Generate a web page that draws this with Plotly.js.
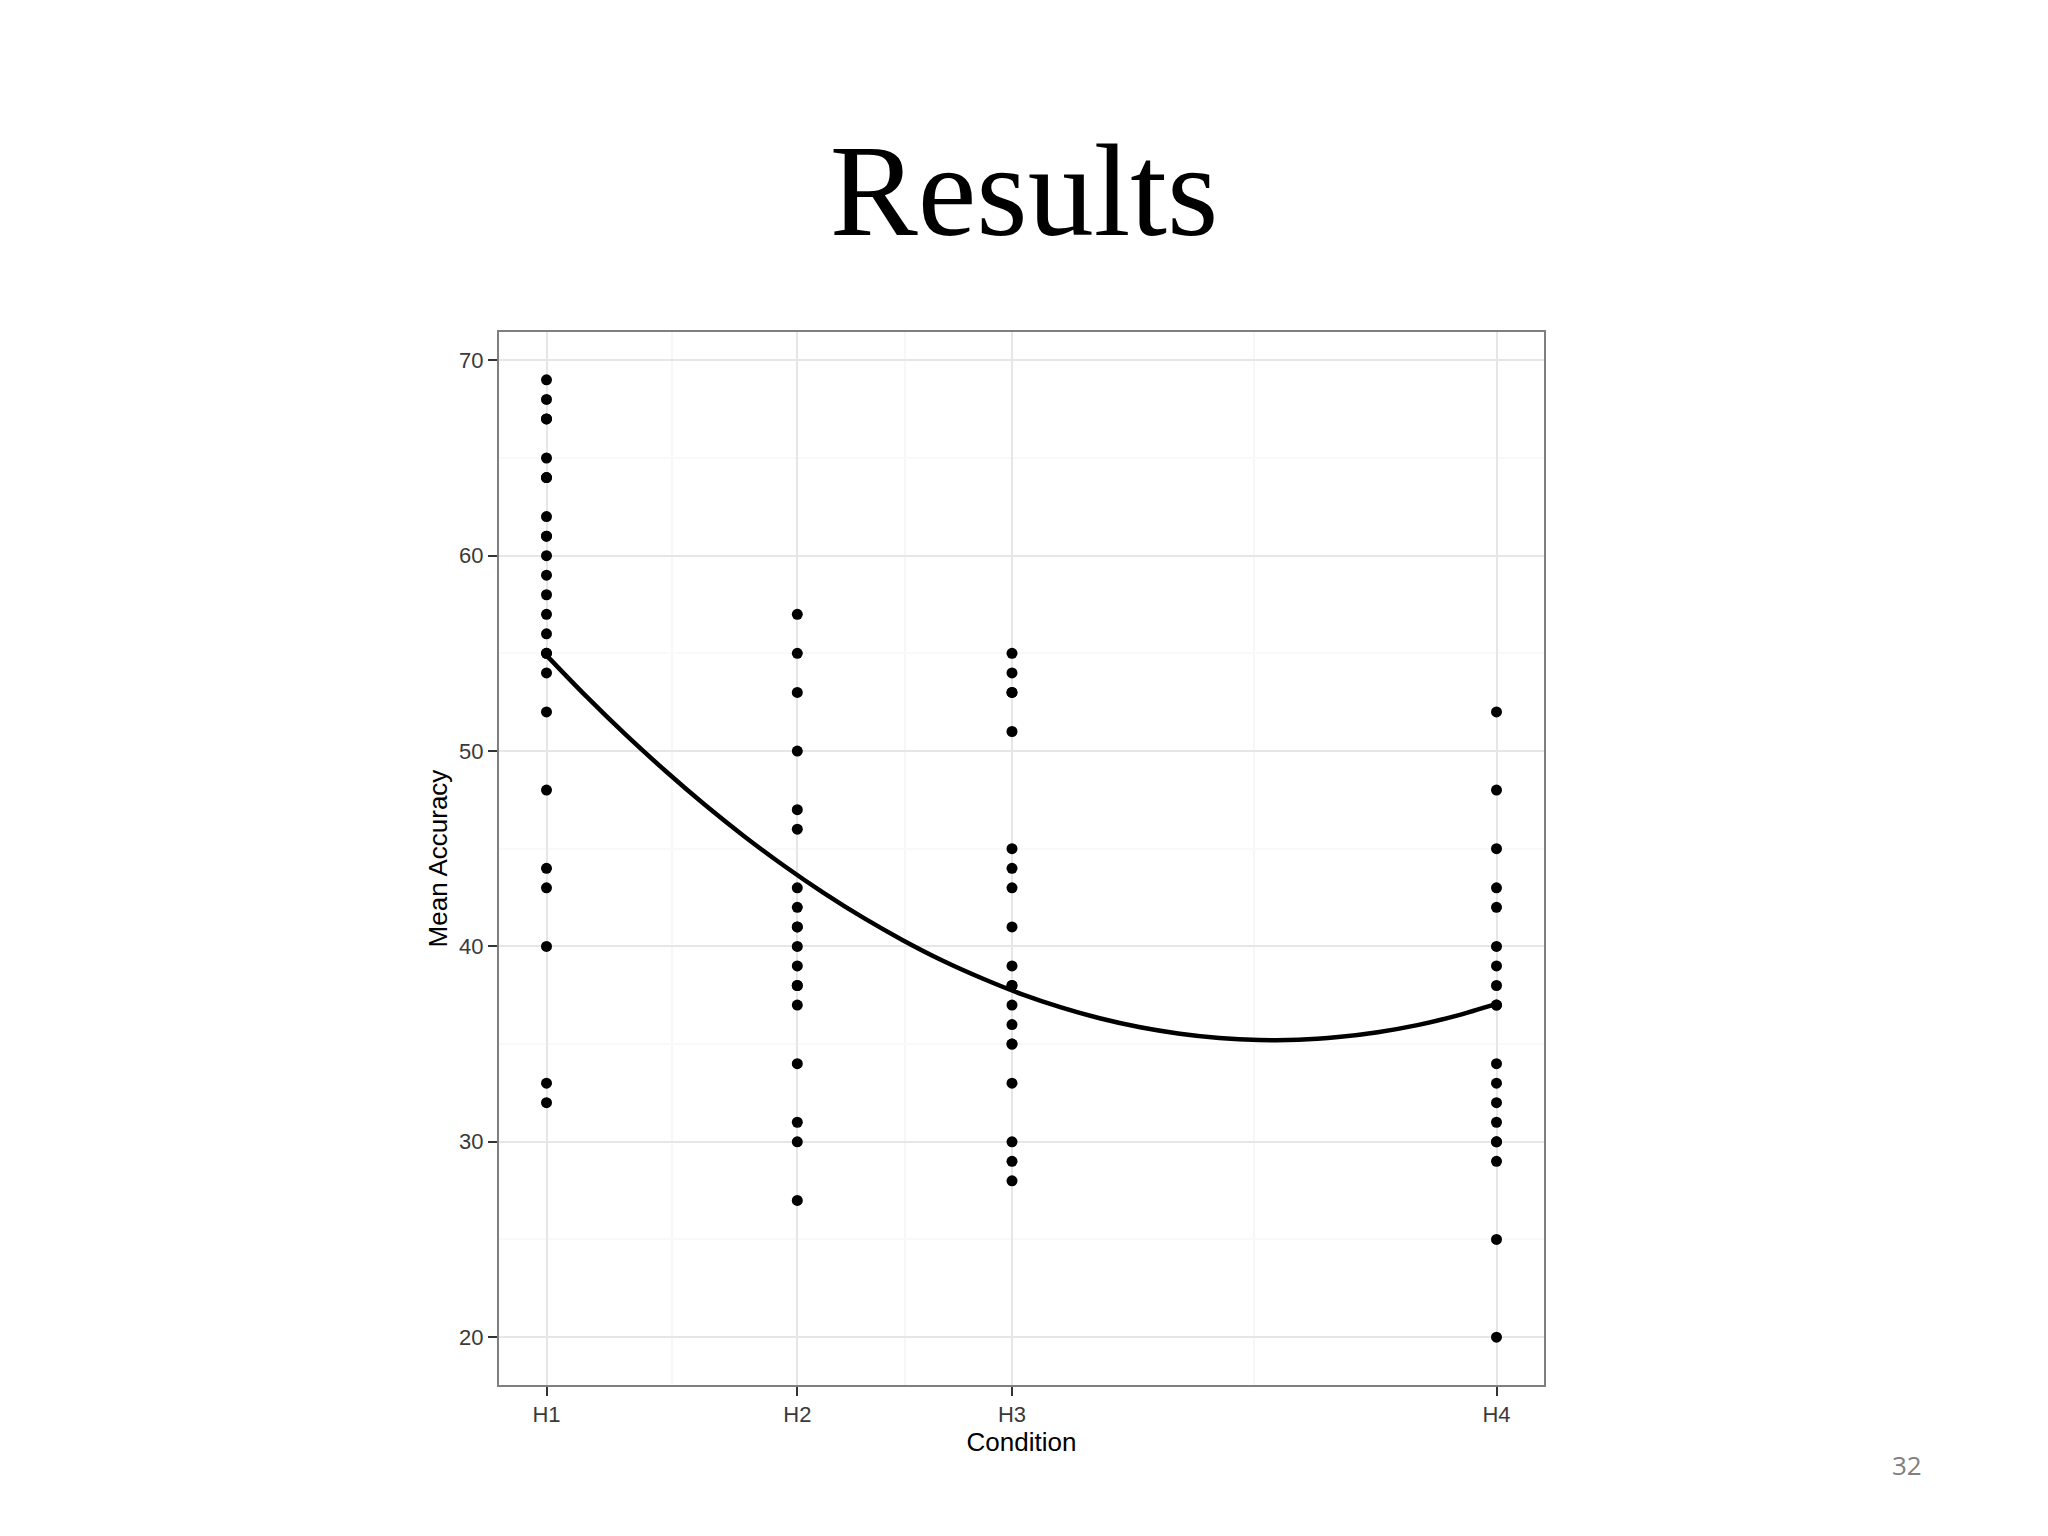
<!DOCTYPE html>
<html>
<head>
<meta charset="utf-8">
<script src="https://cdn.plot.ly/plotly-3.0.1.min.js"></script>
<style>
html,body{margin:0;padding:0;background:#ffffff;}
#chart{width:2048px;height:1536px;}
</style>
</head>
<body>
<div id="chart"></div>
<script>
// Condition positions on the numeric x scale and their labels
const conditionLabels = ["H1", "H2", "H3", "H4"];
const conditionX = [1, 1.792, 2.47, 4];

// Mean accuracy per participant, per condition
const accH1 = [69, 68, 67, 67, 65, 64, 64, 62, 61, 61, 60, 59, 58, 57, 56, 55, 55, 54, 52, 48, 44, 43, 40, 33, 32];
const accH2 = [57, 55, 53, 50, 47, 46, 43, 42, 41, 41, 40, 39, 38, 38, 37, 34, 31, 30, 27];
const accH3 = [55, 54, 53, 53, 51, 45, 44, 43, 41, 39, 38, 38, 37, 36, 35, 35, 33, 30, 29, 28];
const accH4 = [52, 48, 45, 43, 42, 40, 39, 38, 37, 37, 34, 33, 32, 31, 30, 30, 29, 25, 20];

// Smooth (quadratic) fit line
const fitX = [1.0, 1.125, 1.25, 1.375, 1.5, 1.625, 1.75, 1.875, 2.0, 2.125, 2.25, 2.375, 2.5,
              2.625, 2.75, 2.875, 3.0, 3.125, 3.25, 3.375, 3.5, 3.625, 3.75, 3.875, 4.0];
const fitY = [54.90, 52.81, 50.84, 48.99, 47.25, 45.63, 44.13, 42.74, 41.47, 40.32, 39.28, 38.37, 37.56,
              36.88, 36.31, 35.86, 35.53, 35.31, 35.21, 35.22, 35.36, 35.61, 35.97, 36.46, 37.06];

// Axis ticks
const yTicks = [20, 30, 40, 50, 60, 70];
const yMinor = [25, 35, 45, 55, 65];

const groups = [accH1, accH2, accH3, accH4];
const ptsX = [], ptsY = [];
groups.forEach((g, i) => g.forEach(v => { ptsX.push(conditionX[i]); ptsY.push(v); }));
const xMinor = [];
for (let i = 0; i < conditionX.length - 1; i++) xMinor.push((conditionX[i] + conditionX[i + 1]) / 2);

const traces = [
  {
    type: "scatter", mode: "lines", x: fitX, y: fitY,
    line: {color: "#000000", width: 4.5, shape: "spline", smoothing: 0.8},
    hoverinfo: "skip", showlegend: false
  },
  {
    type: "scatter", mode: "markers", x: ptsX, y: ptsY,
    marker: {color: "#000000", size: 11}, hoverinfo: "skip", showlegend: false
  }
];

const axisFont = {family: "Liberation Sans, Arial, sans-serif", size: 22, color: "#3a3a3a"};

const layout = {
  width: 2048, height: 1536,
  paper_bgcolor: "#ffffff", plot_bgcolor: "#ffffff",
  margin: {l: 499, r: 504, t: 332, b: 151, pad: 0},
  showlegend: false,
  title: {
    text: "Results", x: 0.5, xref: "container", xanchor: "center",
    y: 0.877, yref: "container", yanchor: "middle",
    font: {family: "Liberation Serif, DejaVu Serif, serif", size: 132, color: "#000000"}
  },
  xaxis: {
    range: [0.85, 4.15], tickmode: "array", tickvals: conditionX, ticktext: conditionLabels,
    ticks: "outside", ticklen: 9, tickwidth: 2, tickcolor: "#333333",
    tickfont: axisFont,
    showgrid: true, gridcolor: "#e6e6e6", gridwidth: 2,
    minor: {tickmode: "array", tickvals: xMinor, showgrid: true, gridcolor: "#f7f7f7", gridwidth: 2, ticks: ""},
    showline: true, linecolor: "#7f7f7f", linewidth: 2, mirror: true,
    zeroline: false,
    title: {text: "Condition", standoff: 3, font: {family: "Liberation Sans, Arial, sans-serif", size: 26, color: "#000000"}}
  },
  yaxis: {
    range: [17.55, 71.45], tickmode: "array", tickvals: yTicks,
    ticks: "outside", ticklen: 9, tickwidth: 2, tickcolor: "#333333",
    tickfont: axisFont,
    showgrid: true, gridcolor: "#e6e6e6", gridwidth: 2,
    minor: {tickmode: "array", tickvals: yMinor, showgrid: true, gridcolor: "#f9f9f9", gridwidth: 2, ticks: ""},
    showline: true, linecolor: "#7f7f7f", linewidth: 2, mirror: true,
    zeroline: false,
    title: {text: "Mean Accuracy", standoff: 4, font: {family: "Liberation Sans, Arial, sans-serif", size: 26, color: "#000000"}}
  },
  annotations: [
    {
      text: "32", xref: "paper", yref: "paper", x: 1.0 + (1907 - 1544) / 1045, y: -(1465 - 1385) / 1053,
      xanchor: "center", yanchor: "middle", showarrow: false,
      font: {family: "Open Sans, Liberation Sans, sans-serif", size: 26, color: "#808080"}
    }
  ]
};

Plotly.newPlot("chart", traces, layout, {displayModeBar: false, staticPlot: true});
</script>
</body>
</html>
